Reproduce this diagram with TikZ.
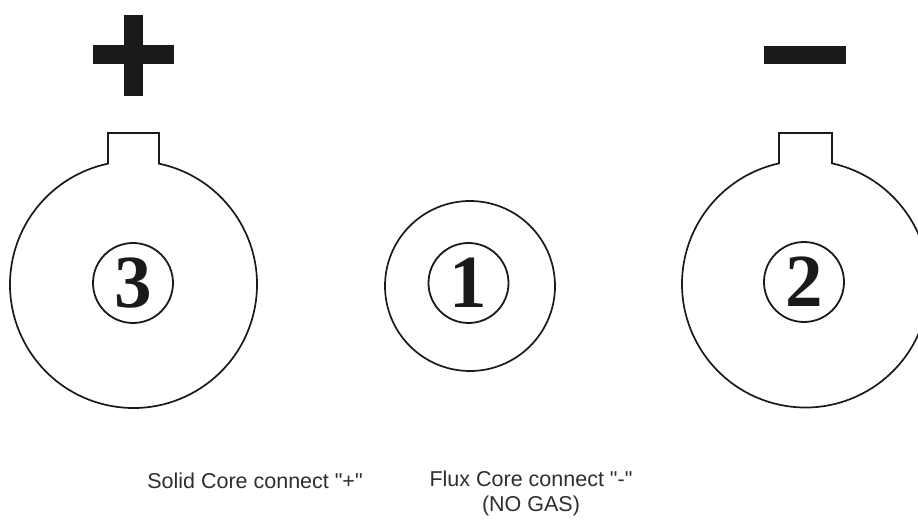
\documentclass[tikz,border=0pt]{standalone}
\usepackage{fontspec}
\setmainfont{Liberation Sans}
\newfontfamily\capfont{Liberation Sans}
\newfontfamily\digitfont{Liberation Serif}
\usetikzlibrary{calc}
\definecolor{ink}{HTML}{1C1A18}
\definecolor{txt}{HTML}{2E2E2E}
\tikzset{
  outline/.style={draw=ink, line width=1.7pt, fill=white},
  numcirc/.style={circle, draw=ink, line width=1.8pt, minimum size=80pt, inner sep=0pt,
    font=\digitfont\bfseries\fontsize{75}{75}\selectfont, text=ink},
  sign/.style={fill=ink, draw=none},
  caption/.style={font=\capfont\fontsize{21.5}{25}\selectfont, text=txt, align=center, inner sep=0pt}
}
\begin{document}
\begin{tikzpicture}[x=1pt, y=1pt]
  \useasboundingbox (0,0) rectangle (918,520);
  \clip (0,0) rectangle (918,520);
  % left terminal (plus)
  \coordinate (cL) at (133.5,235.5);
  \draw[outline] ($(cL)+(-25.5,151.5)$) -- ($(cL)+(25.5,151.5)$)
     -- ($(cL)+(78.1:123.5)$) arc[start angle=78.1, end angle=-258.1, radius=123.5] -- cycle;
  % right terminal (minus)
  \coordinate (cR) at (805.5,236);
  \draw[outline] ($(cR)+(-26.5,151)$) -- ($(cR)+(26.5,151)$)
     -- ($(cR)+(77.6:123.5)$) arc[start angle=77.6, end angle=-257.6, radius=123.5] -- cycle;
  % middle
  \node[outline, circle, minimum size=170pt, inner sep=0pt] (mid) at (470,234) {};
  % circled numbers
  \node[numcirc] (n3) at (133,237) {\raisebox{-1pt}{3}};
  \node[numcirc] (n1) at (468.5,237) {\raisebox{-1pt}{1}};
  \node[numcirc] (n2) at (804,238) {\raisebox{-1pt}{2}};
  % plus sign
  \fill[sign] (93,455.5) rectangle (174,474.5);
  \fill[sign] (124,424) rectangle (143,505);
  % minus sign
  \fill[sign] (764,456) rectangle (846,474);
  % captions
  \node[caption] (capL) at (255,39) {Solid Core connect "+"};
  \node[caption, anchor=north] (capR) at (531,49.5) {Flux Core connect "-"\\(NO GAS)};
\end{tikzpicture}
\end{document}
